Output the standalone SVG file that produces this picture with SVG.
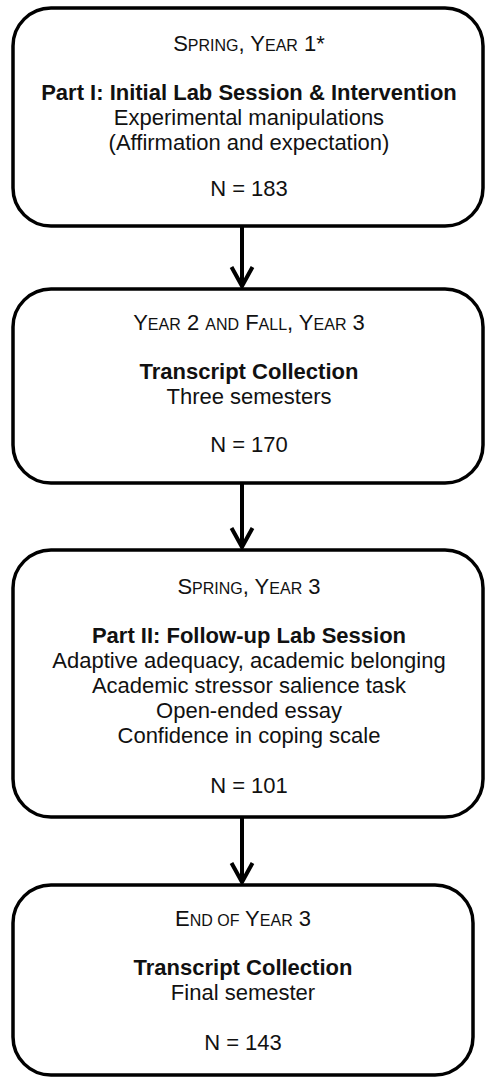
<svg xmlns="http://www.w3.org/2000/svg" width="485" height="1078" viewBox="0 0 485 1078">
<style>
.box{fill:#fff;stroke:#000;stroke-width:3.5}
text{font-family:"Liberation Sans",Arial,sans-serif;font-size:22px;fill:#111;text-anchor:middle}
.b{font-weight:bold}
.sc{font-size:16px}
.conn{stroke:#000;stroke-width:4;fill:none}
</style>
<defs>
<marker id="ah" markerUnits="userSpaceOnUse" markerWidth="30" markerHeight="30" viewBox="-25 -15 30 30" refX="0" refY="0" orient="auto" overflow="visible">
<path d="M-19,-10.5 L0,0 L-19,10.5" fill="none" stroke="#000" stroke-width="4"/>
</marker>
</defs>
<rect width="485" height="1078" fill="#fff"/>
<g id="connectors">
<line class="conn" x1="242" y1="226" x2="242" y2="286" marker-end="url(#ah)"/>
<line class="conn" x1="242" y1="483" x2="242" y2="547" marker-end="url(#ah)"/>
<line class="conn" x1="242" y1="818" x2="242" y2="882" marker-end="url(#ah)"/>
</g>
<g id="node1">
<rect class="box" x="13" y="8" width="470" height="218" rx="38" ry="38"/>
<text x="249" y="51">S<tspan class="sc">PRING</tspan>, Y<tspan class="sc">EAR</tspan> 1*</text>
<text class="b" x="249" y="100">Part I: Initial Lab Session &amp; Intervention</text>
<text x="249" y="125">Experimental manipulations</text>
<text x="249" y="150">(Affirmation and expectation)</text>
<text x="249" y="196">N = 183</text>
</g>
<g id="node2">
<rect class="box" x="13" y="289" width="470" height="194" rx="38" ry="38"/>
<text x="249" y="330">Y<tspan class="sc">EAR</tspan> 2 <tspan class="sc">AND</tspan> F<tspan class="sc">ALL</tspan>, Y<tspan class="sc">EAR</tspan> 3</text>
<text class="b" x="249" y="379">Transcript Collection</text>
<text x="249" y="404">Three semesters</text>
<text x="249" y="452">N = 170</text>
</g>
<g id="node3">
<rect class="box" x="13" y="550" width="470" height="267" rx="38" ry="38"/>
<text x="249" y="594">S<tspan class="sc">PRING</tspan>, Y<tspan class="sc">EAR</tspan> 3</text>
<text class="b" x="249" y="643">Part II: Follow-up Lab Session</text>
<text x="249" y="668">Adaptive adequacy, academic belonging</text>
<text x="249" y="693">Academic stressor salience task</text>
<text x="249" y="718">Open-ended essay</text>
<text x="249" y="743">Confidence in coping scale</text>
<text x="249" y="793">N = 101</text>
</g>
<g id="node4">
<rect class="box" x="13" y="885" width="460" height="190" rx="38" ry="38"/>
<text x="243" y="926">E<tspan class="sc">ND OF</tspan> Y<tspan class="sc">EAR</tspan> 3</text>
<text class="b" x="243" y="975">Transcript Collection</text>
<text x="243" y="1000">Final semester</text>
<text x="243" y="1050">N = 143</text>
</g>
</svg>
